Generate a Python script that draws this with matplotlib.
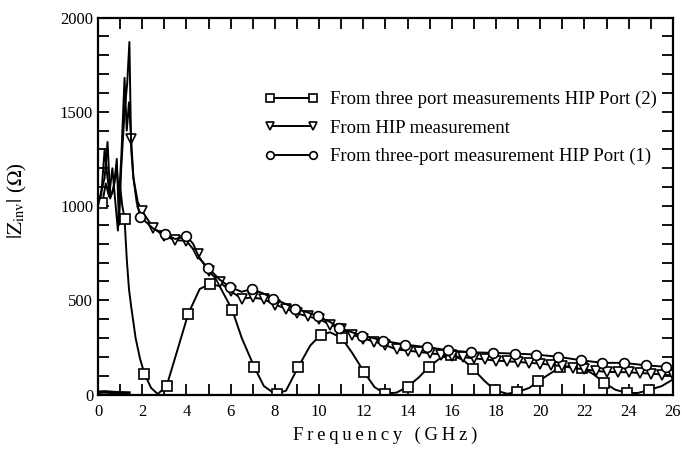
import matplotlib
matplotlib.use("Agg")
import matplotlib.pyplot as plt
from matplotlib.ticker import MultipleLocator

plt.rcParams['font.family'] = ['Liberation Serif', 'DejaVu Serif']
plt.rcParams['mathtext.fontset'] = 'stix'

# ---- Data ----
# Port (2) - squares: line
sq_x = [0, 0.1, 0.2, 0.35, 0.5, 0.65, 0.8, 0.9, 1.0, 1.1, 1.2, 1.3, 1.4, 1.5, 1.7, 1.9, 2.1, 2.4, 2.7,
        3.1, 3.5, 4.08, 4.6, 5.08, 5.5, 6.07, 6.5, 7.07, 7.5, 8.0, 8.5, 9.05, 9.6, 10.08, 10.5, 11.02,
        11.5, 12.04, 12.5, 12.96, 13.5, 14.0, 14.5, 14.97, 15.5, 15.97, 16.5, 16.96, 17.5, 17.95, 18.5,
        18.95, 19.5, 19.92, 20.5, 20.9, 21.4, 21.9, 22.4, 22.9, 23.4, 23.92, 24.4, 24.9, 25.5, 26.0]
sq_y = [980, 1040, 1018, 1120, 1050, 1200, 1000, 870, 1100, 1000, 933, 720, 560, 467, 300, 190, 111, 35, 3,
        44, 200, 428, 560, 587, 575, 449, 300, 145, 45, 3, 20, 145, 260, 318, 330, 300,
        220, 118, 40, 5, 10, 41, 90, 147, 195, 207, 185, 136, 70, 23, 4,
        12, 35, 71, 115, 145, 152, 142, 108, 62, 25, 9, 8, 23, 45, 80]
sq_mx = [0.2, 1.2, 2.1, 3.1, 4.08, 5.08, 6.07, 7.07, 8.1, 9.05, 10.08, 11.02, 12.04, 12.96, 14.0, 14.97,
         15.97, 16.96, 17.95, 18.95, 19.92, 20.9, 21.9, 22.9, 23.92, 24.9]
sq_my = [1018, 933, 111, 44, 428, 587, 449, 145, 5, 145, 318, 300, 118, 5, 41, 147,
         207, 136, 23, 12, 71, 145, 142, 62, 9, 23]

# HIP measurement - triangles
tri_x = [0, 0.15, 0.3, 0.43, 0.55, 0.7, 0.85, 0.95, 1.05, 1.2, 1.3, 1.4, 1.5, 1.6, 1.8,
         2.0, 2.5, 3.0, 3.5, 4.0, 4.5, 5.0, 5.5, 6.0, 6.5, 7.0, 7.5, 8.0, 8.5, 9.0, 9.5, 10.0,
         10.5, 11.0, 11.5, 12.0, 12.5, 13.0, 13.5, 14.0, 14.5, 15.0, 15.5, 16.0, 16.5, 17.0,
         17.5, 18.0, 18.5, 19.0, 19.5, 20.0, 20.5, 21.0, 21.5, 22.0, 22.5, 23.0, 23.5, 24.0,
         24.5, 25.0, 25.5, 26.0]
tri_y = [1020, 1060, 1300, 1150, 1040, 1100, 1200, 1050, 1250, 1680, 1400, 1550, 1353, 1150, 1020,
         972, 884, 840, 819, 815, 743, 654, 596, 548, 509, 515, 505, 477, 456, 430, 414, 400,
         371, 345, 318, 297, 281, 262, 239, 233, 226, 219, 212, 205, 198, 192,
         186, 180, 176, 173, 168, 164, 157, 150, 141, 133, 126, 120, 119, 118,
         114, 111, 106, 101]
tri_mx = [1.5, 2.0, 2.5, 3.0, 3.5, 4.0, 4.5, 5.0, 5.5, 6.0, 6.5, 7.0, 7.5, 8.0, 8.5, 9.0, 9.5, 10.0,
          10.5, 11.0, 11.5, 12.0, 12.5, 13.0, 13.5, 14.0, 14.5, 15.0, 15.5, 16.0, 16.5, 17.0,
          17.5, 18.0, 18.5, 19.0, 19.5, 20.0, 20.5, 21.0, 21.5, 22.0, 22.5, 23.0, 23.5, 24.0,
          24.5, 25.0, 25.5, 26.0]
tri_my = [1353, 972, 884, 840, 819, 815, 743, 654, 596, 548, 509, 515, 505, 477, 456, 430, 414, 400,
          371, 345, 318, 297, 281, 262, 239, 233, 226, 219, 212, 205, 198, 192,
          186, 180, 176, 173, 168, 164, 157, 150, 141, 133, 126, 120, 119, 118,
          114, 111, 106, 101]

# Port (1) - circles
cir_x = [0, 0.15, 0.3, 0.43, 0.55, 0.7, 0.85, 0.95, 1.05, 1.2, 1.32, 1.42, 1.5, 1.6, 1.75, 1.92,
         2.5, 3.04, 3.5, 4.0, 4.3, 4.6, 4.98, 5.5, 5.95, 6.5, 6.95, 7.5, 7.93, 8.5, 8.93, 9.5, 9.93,
         10.5, 10.9, 11.5, 11.92, 12.5, 12.9, 13.88, 14.87, 15.84, 16.87, 17.85, 18.85, 19.82,
         20.82, 21.83, 22.8, 23.77, 24.77, 25.7, 26.0]
cir_y = [1000, 1080, 1150, 1340, 1050, 1080, 1250, 900, 1200, 1500, 1650, 1870, 1300, 1150, 1020, 942,
         880, 849, 825, 840, 800, 720, 672, 610, 571, 545, 560, 535, 509, 480, 456, 435, 415,
         385, 354, 330, 313, 298, 285, 265, 251, 235, 224, 221, 217, 212,
         200, 182, 168, 168, 155, 147, 145]
cir_mx = [1.92, 3.04, 4.0, 4.98, 5.95, 6.95, 7.93, 8.93, 9.93, 10.9, 11.92, 12.9, 13.88, 14.87, 15.84,
          16.87, 17.85, 18.85, 19.82, 20.82, 21.83, 22.8, 23.77, 24.77, 25.7]
cir_my = [942, 849, 840, 672, 571, 560, 509, 456, 415, 354, 313, 285, 265, 251, 235,
          224, 221, 217, 212, 200, 182, 168, 168, 155, 147]

# near-zero trace at low frequency
low_x = [0, 0.3, 0.8, 1.4]
low_y = [12, 14, 10, 8]

labels = ["From three port measurements HIP Port (2)",
          "From HIP measurement",
          "From three-port measurement HIP Port (1)"]

fig = plt.figure(figsize=(6.82, 4.5), dpi=100)
ax = fig.add_axes([0.1437, 0.1233, 0.843, 0.8377])

lw = 1.4
ms = 7
mk = dict(markerfacecolor='white', markeredgecolor='black', markeredgewidth=1.2, color='black')

ax.plot(low_x, low_y, color='black', lw=2.5)

ax.plot(sq_x, sq_y, color='black', lw=lw)
ax.plot(sq_mx, sq_my, ls='none', marker='s', ms=ms, **mk)
ax.plot(tri_x, tri_y, color='black', lw=lw)
ax.plot(tri_mx, tri_my, ls='none', marker='v', ms=ms, **mk)
ax.plot(cir_x, cir_y, color='black', lw=lw)
ax.plot(cir_mx, cir_my, ls='none', marker='o', ms=ms, **mk)

# legend proxies
lms = 5.5
h1, = ax.plot([], [], marker='s', ms=lms, lw=lw, **mk)
h2, = ax.plot([], [], marker='v', ms=lms, lw=lw, **mk)
h3, = ax.plot([], [], marker='o', ms=lms, lw=lw, **mk)
leg = ax.legend([h1, h2, h3], labels, loc='center left', bbox_to_anchor=(0.29, 0.707),
                frameon=False, numpoints=2, handlelength=2.9, handletextpad=0.6,
                fontsize=13.5, labelspacing=0.6, borderaxespad=0, borderpad=0)

ax.set_xlim(0, 26)
ax.set_ylim(0, 2000)
ax.xaxis.set_major_locator(MultipleLocator(2))
ax.xaxis.set_minor_locator(MultipleLocator(1))
ax.yaxis.set_major_locator(MultipleLocator(500))
ax.yaxis.set_minor_locator(MultipleLocator(100))
ax.tick_params(which='both', direction='in', top=True, right=True, width=1.3, labelsize=12)
ax.tick_params(which='major', length=8)
ax.tick_params(which='minor', length=8)
ax.tick_params(axis='x', pad=7)
for s in ax.spines.values():
    s.set_linewidth(1.6)

ts = "\u2009"
ax.set_xlabel(ts.join("Frequency (GHz)"), fontsize=13.5, labelpad=5)
ax.set_ylabel(r"$|\mathrm{Z}_{\mathrm{inv}}|$ ($\Omega$)", fontsize=15)
ax.yaxis.set_label_coords(-0.12, 0.515)

fig.savefig("out.png", dpi=100)
